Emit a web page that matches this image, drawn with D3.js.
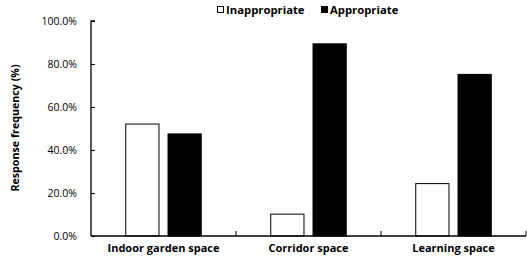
<!DOCTYPE html>
<html>
<head>
<meta charset="utf-8">
<script src="https://cdn.jsdelivr.net/npm/d3@7"></script>
<style>
  body { margin: 0; background: #fff; }
  text { font-family: "Open Sans", sans-serif; fill: #000; }
</style>
</head>
<body>
<svg id="chart" width="527" height="261"></svg>
<script>
// Data
const categories = ["Indoor garden space", "Corridor space", "Learning space"];
const seriesNames = ["Inappropriate", "Appropriate"];
const inappropriate = [52.3, 10.4, 24.6];
const appropriate = [47.7, 89.6, 75.4];
const yTicks = [0, 20, 40, 60, 80, 100];

const DIM = {
  width: 527,
  height: 261,
  margin: {top: 21, right: 1, bottom: 25, left: 91}
};

const svg = d3.select("#chart");

const x = d3.scaleBand()
  .domain(categories)
  .range([DIM.margin.left, DIM.width - DIM.margin.right]);

const xInner = d3.scaleBand()
  .domain(seriesNames)
  .range([0, x.bandwidth()])
  .paddingInner(0.19)
  .paddingOuter(0.81);

const y = d3.scaleLinear()
  .domain([0, 100])
  .range([DIM.height - DIM.margin.bottom, DIM.margin.top]);

const fills = {Inappropriate: "#fff", Appropriate: "#000"};

// bars
const rows = categories.map((c, i) => ({cat: c, values: [
  {name: "Inappropriate", v: inappropriate[i]},
  {name: "Appropriate", v: appropriate[i]}
]}));

svg.append("g")
  .selectAll("g")
  .data(rows)
  .join("g")
  .attr("transform", d => `translate(${x(d.cat)},0)`)
  .selectAll("rect")
  .data(d => d.values)
  .join("rect")
  .attr("x", d => xInner(d.name) + 0.5)
  .attr("y", d => y(d.v) + 0.5)
  .attr("width", xInner.bandwidth() - 1)
  .attr("height", d => y(0) - y(d.v) - 0.5)
  .attr("fill", d => fills[d.name])
  .attr("stroke", "#000")
  .attr("stroke-width", 1);

// y axis, ticks pointing inward
const yAxis = svg.append("g")
  .attr("transform", `translate(${DIM.margin.left},0)`)
  .call(d3.axisRight(y).tickValues(yTicks).tickSize(4).tickFormat(""));
yAxis.select(".domain").attr("d", `M4,${y(100)}H0V${y(0)}`).attr("stroke-width", 1.3);

svg.append("g")
  .selectAll("text")
  .data(yTicks)
  .join("text")
  .attr("x", 77)
  .attr("y", d => y(d))
  .attr("dy", "0.35em")
  .attr("text-anchor", "end")
  .attr("font-size", "10.5px")
  .text(d => d.toFixed(1) + "%");

// x axis, ticks pointing up
const xAxis = svg.append("g")
  .attr("transform", `translate(0,${y(0)})`);
xAxis.append("path")
  .attr("d", `M${DIM.margin.left},0H${DIM.width - DIM.margin.right}`)
  .attr("stroke", "#000")
  .attr("stroke-width", 1.3);
xAxis.selectAll("line")
  .data(categories)
  .join("line")
  .attr("x1", d => x(d) + x.bandwidth())
  .attr("x2", d => x(d) + x.bandwidth())
  .attr("y1", 0)
  .attr("y2", -5)
  .attr("stroke", "#000");

svg.append("g")
  .selectAll("text")
  .data(categories)
  .join("text")
  .attr("x", d => x(d) + x.bandwidth() / 2)
  .attr("y", 252)
  .attr("text-anchor", "middle")
  .attr("font-size", "11px")
  .attr("font-weight", "bold")
  .text(d => d);

// y axis title
svg.append("text")
  .attr("transform", "rotate(-90)")
  .attr("x", -128)
  .attr("y", 19)
  .attr("text-anchor", "middle")
  .attr("font-size", "10.7px")
  .attr("font-weight", "bold")
  .text("Response frequency (%)");

// legend
const legendX = [217, 321];
const legend = svg.append("g")
  .selectAll("g")
  .data(seriesNames)
  .join("g")
  .attr("transform", (d, i) => `translate(${legendX[i]},0)`);
legend.append("rect")
  .attr("x", 0.5)
  .attr("y", 6.5)
  .attr("width", 6)
  .attr("height", 6)
  .attr("fill", d => fills[d])
  .attr("stroke", "#000");
legend.append("text")
  .attr("x", 9)
  .attr("y", 13.5)
  .attr("font-size", "11.3px")
  .attr("font-weight", "bold")
  .text(d => d);
</script>
</body>
</html>
